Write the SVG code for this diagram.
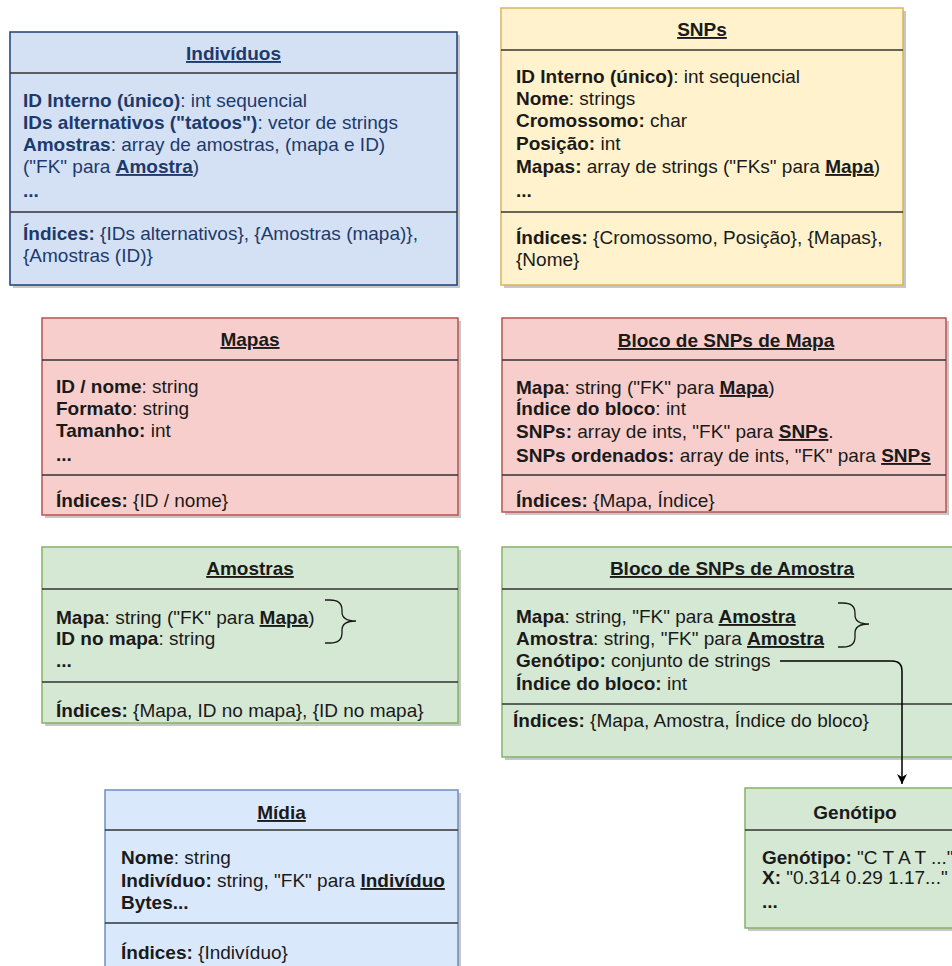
<svg xmlns="http://www.w3.org/2000/svg" width="952" height="966" viewBox="0 0 952 966">
<style>
text{font-family:"Liberation Sans",Arial,sans-serif;font-size:19px;fill:#1a1a1a}
.t{font-weight:bold;text-anchor:middle;text-decoration:underline}
.tn{font-weight:bold;text-anchor:middle}
.b{font-weight:bold}
.u{font-weight:bold;text-decoration:underline}
.sh{fill:#000;opacity:0.22}
.div{stroke:#333;stroke-width:1.6}
.blue{fill:#dae8fc;stroke:#6c8ebf;stroke-width:1.5}
.navy{fill:#d4e1f5;stroke:#1f3f73;stroke-width:1.5}
.yel{fill:#fff2cc;stroke:#d6b656;stroke-width:1.5}
.red{fill:#f8cecc;stroke:#b85450;stroke-width:1.5}
.grn{fill:#d5e8d4;stroke:#82b366;stroke-width:1.5}
.nv text,.nv{fill:#1d3a6b}
.br{fill:none;stroke:#1a1a1a;stroke-width:1.3}
</style>
<defs>
<marker id="arr" markerWidth="12" markerHeight="12" viewBox="0 0 12 12" refX="10" refY="6" orient="auto" markerUnits="userSpaceOnUse">
<path d="M0,1 L10,6 L0,11 L3,6 Z" fill="#000"/>
</marker>
</defs>
<rect width="952" height="966" fill="#fff"/>

<g id="individuos" class="nv">
<rect class="sh" x="13" y="35" width="447" height="253"/>
<rect class="navy" x="10" y="32" width="447" height="253"/>
<line class="div" x1="10" y1="73" x2="457" y2="73"/>
<line class="div" x1="10" y1="212" x2="457" y2="212"/>
<text class="t" x="233.5" y="60">Indivíduos</text>
<text x="23" y="107"><tspan class="b">ID Interno (único)</tspan>: int sequencial</text>
<text x="23" y="129"><tspan class="b">IDs alternativos ("tatoos")</tspan>: vetor de strings</text>
<text x="23" y="151"><tspan class="b">Amostras</tspan>: array de amostras, (mapa e ID)</text>
<text x="23" y="173">("FK" para <tspan class="u">Amostra</tspan>)</text>
<text x="23" y="197" class="b">...</text>
<text x="23" y="240"><tspan class="b">Índices:</tspan> {IDs alternativos}, {Amostras (mapa)},</text>
<text x="23" y="262">{Amostras (ID)}</text>
</g>

<g id="snps">
<rect class="sh" x="504" y="11" width="402" height="277"/>
<rect class="yel" x="501" y="8" width="402" height="277"/>
<line class="div" x1="501" y1="50" x2="903" y2="50"/>
<line class="div" x1="501" y1="212" x2="903" y2="212"/>
<text class="t" x="702" y="36">SNPs</text>
<text x="516" y="83"><tspan class="b">ID Interno (único)</tspan>: int sequencial</text>
<text x="516" y="105"><tspan class="b">Nome</tspan>: strings</text>
<text x="516" y="127"><tspan class="b">Cromossomo:</tspan> char</text>
<text x="516" y="150"><tspan class="b">Posição:</tspan> int</text>
<text x="516" y="173"><tspan class="b">Mapas:</tspan> array de strings ("FKs" para <tspan class="u">Mapa</tspan>)</text>
<text x="516" y="197" class="b">...</text>
<text x="516" y="244"><tspan class="b">Índices:</tspan> {Cromossomo, Posição}, {Mapas},</text>
<text x="516" y="266">{Nome}</text>
</g>

<g id="mapas">
<rect class="sh" x="45" y="321" width="416" height="197"/>
<rect class="red" x="42" y="318" width="416" height="197"/>
<line class="div" x1="42" y1="360" x2="458" y2="360"/>
<line class="div" x1="42" y1="475" x2="458" y2="475"/>
<text class="t" x="250" y="346">Mapas</text>
<text x="56" y="393"><tspan class="b">ID / nome</tspan>: string</text>
<text x="56" y="415"><tspan class="b">Formato</tspan>: string</text>
<text x="56" y="437"><tspan class="b">Tamanho:</tspan> int</text>
<text x="56" y="461" class="b">...</text>
<text x="56" y="507"><tspan class="b">Índices:</tspan> {ID / nome}</text>
</g>

<g id="bloco-mapa">
<rect class="sh" x="505" y="321" width="444" height="194"/>
<rect class="red" x="502" y="318" width="444" height="194"/>
<line class="div" x1="502" y1="360" x2="946" y2="360"/>
<line class="div" x1="502" y1="475" x2="946" y2="475"/>
<text class="t" x="726" y="347">Bloco de SNPs de Mapa</text>
<text x="516" y="394"><tspan class="b">Mapa</tspan>: string ("FK" para <tspan class="u">Mapa</tspan>)</text>
<text x="516" y="415"><tspan class="b">Índice do bloco</tspan>: int</text>
<text x="516" y="438"><tspan class="b">SNPs:</tspan> array de ints, "FK" para <tspan class="u">SNPs</tspan>.</text>
<text x="516" y="462"><tspan class="b">SNPs ordenados:</tspan> array de ints, "FK" para <tspan class="u">SNPs</tspan></text>
<text x="516" y="507"><tspan class="b">Índices:</tspan> {Mapa, Índice}</text>
</g>

<g id="amostras">
<rect class="sh" x="45" y="550" width="416" height="176"/>
<rect class="grn" x="42" y="547" width="416" height="176"/>
<line class="div" x1="42" y1="589" x2="458" y2="589"/>
<line class="div" x1="42" y1="682" x2="458" y2="682"/>
<text class="t" x="250" y="575">Amostras</text>
<text x="56" y="624"><tspan class="b">Mapa</tspan>: string ("FK" para <tspan class="u">Mapa</tspan>)</text>
<text x="56" y="645"><tspan class="b">ID no mapa</tspan>: string</text>
<text x="56" y="667" class="b">...</text>
<text x="56" y="717"><tspan class="b">Índices:</tspan> {Mapa, ID no mapa}, {ID no mapa}</text>
<path class="br" d="M325,600 H330 Q342,600 342,610 L342,612 Q342,621 356,621 Q342,621 342,630 L342,633 Q342,643 330,643 H325"/>
</g>

<g id="bloco-amostra">
<rect class="sh" x="505" y="550" width="460" height="210"/>
<rect class="grn" x="502" y="547" width="460" height="210"/>
<line class="div" x1="502" y1="589" x2="962" y2="589"/>
<line class="div" x1="502" y1="704" x2="962" y2="704"/>
<text class="t" x="732" y="575">Bloco de SNPs de Amostra</text>
<text x="516" y="623"><tspan class="b">Mapa</tspan>: string, "FK" para <tspan class="u">Amostra</tspan></text>
<text x="516" y="645"><tspan class="b">Amostra</tspan>: string, "FK" para <tspan class="u">Amostra</tspan></text>
<text x="516" y="667"><tspan class="b">Genótipo:</tspan> conjunto de strings</text>
<text x="516" y="690"><tspan class="b">Índice do bloco:</tspan> int</text>
<text x="513" y="727"><tspan class="b">Índices:</tspan> {Mapa, Amostra, Índice do bloco}</text>
<path class="br" d="M838,603 H843 Q855,603 855,613 L855,615 Q855,624 869,624 Q855,624 855,633 L855,637 Q855,647 843,647 H838"/>
</g>

<g id="genotipo">
<rect class="sh" x="748" y="791" width="220" height="140"/>
<rect class="grn" x="745" y="788" width="220" height="140"/>
<line class="div" x1="745" y1="830" x2="965" y2="830"/>
<text class="tn" x="855" y="819">Genótipo</text>
<text x="762" y="864"><tspan class="b">Genótipo:</tspan> "C T A T ..."</text>
<text x="762" y="884"><tspan class="b">X:</tspan> "0.314 0.29 1.17..."</text>
<text x="762" y="908" class="b">...</text>
</g>

<g id="midia">
<rect class="sh" x="108" y="793" width="353" height="190"/>
<rect class="blue" x="105" y="790" width="353" height="190"/>
<line class="div" x1="105" y1="830" x2="458" y2="830"/>
<line class="div" x1="105" y1="923" x2="458" y2="923"/>
<text class="t" x="281.5" y="819">Mídia</text>
<text x="121" y="864"><tspan class="b">Nome</tspan>: string</text>
<text x="121" y="887"><tspan class="b">Indivíduo:</tspan> string, "FK" para <tspan class="u">Indivíduo</tspan></text>
<text x="121" y="909" class="b">Bytes...</text>
<text x="121" y="959"><tspan class="b">Índices:</tspan> {Indivíduo}</text>
</g>

<g id="connectors">
<path d="M780,661 H892 Q902,661 902,671 V784" fill="none" stroke="#000" stroke-width="1.5" marker-end="url(#arr)"/>
</g>
</svg>
